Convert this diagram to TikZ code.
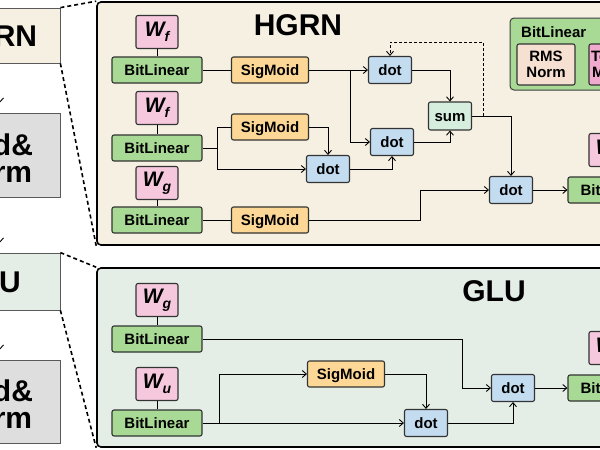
\documentclass[tikz,border=0pt]{standalone}
\usepackage{fontspec}
\setmainfont{Liberation Sans}
\usetikzlibrary{arrows.meta}

\definecolor{hgrnbg}{HTML}{F5F0E1}
\definecolor{glubg}{HTML}{E4EEE6}
\definecolor{addgray}{HTML}{DEDEDE}
\definecolor{wpink}{HTML}{F5C8DE}
\definecolor{blgreen}{HTML}{A8DA96}
\definecolor{sigorange}{HTML}{FCD796}
\definecolor{dotblue}{HTML}{C4DCF0}
\definecolor{summint}{HTML}{D6EEDE}
\definecolor{rmspeach}{HTML}{F6E0D2}
\definecolor{ternpink}{HTML}{F0AACD}

\newcommand{\wmat}[1]{{\fontsize{21}{21}\selectfont\bfseries\itshape W}\raisebox{-5pt}{\fontsize{14}{14}\selectfont\bfseries\itshape #1}}

\begin{document}
\begin{tikzpicture}[x=1pt,y=-1pt,
  blk/.style={draw=black!80,line width=1.1pt,rounded corners=2pt,inner sep=0pt,font=\bfseries\fontsize{15}{16}\selectfont},
  oneline/.style={text height=10.7pt,text depth=0pt},
  wbox/.style={blk,fill=wpink,minimum width=42pt,minimum height=33pt},
  bitlin/.style={blk,oneline,fill=blgreen,minimum width=90pt,minimum height=26pt},
  sigm/.style={blk,oneline,fill=sigorange,minimum width=77pt,minimum height=26pt},
  dotop/.style={blk,oneline,fill=dotblue,minimum width=43pt,minimum height=27pt},
  sumop/.style={blk,oneline,fill=summint,minimum width=43pt,minimum height=28pt},
  panel/.style={draw=black,line width=1.6pt,rounded corners=4pt},
  sidebox/.style={draw=black!65,line width=0.8pt,inner sep=0pt,minimum width=134pt,font=\bfseries\fontsize{30}{27}\selectfont,align=center},
  title/.style={inner sep=0pt,text height=21.5pt,text depth=0pt,font=\bfseries\fontsize{30}{30}\selectfont},
  wire/.style={line width=0.9pt},
  flow/.style={wire,-{Straight Barb[length=4pt,width=7pt]}},
  zoomline/.style={line width=1.6pt,dash pattern=on 4pt off 3pt}
]
\useasboundingbox (0,0) rectangle (600,450);
\fill [white] (0,0) rectangle (600,450);
\clip (0,0) rectangle (600,450);

%%%%%%%%%%%%%%%%%%%%%%%%%%%%%%%%%%%%%%%%%%%%%%%%%%%%%%%%%%%%%%%%%
% left column
\node [sidebox,fill=hgrnbg,minimum height=55pt,text height=21.5pt,text depth=0pt] (hgrnbox) at (-7,35.5) {HGRN};
\node [sidebox,fill=addgray,minimum height=84pt] (an1) at (-7,155) {\rule{0pt}{28pt}Add\&\\Norm};
\node [sidebox,fill=glubg,minimum width=142pt,minimum height=57pt,text height=21.5pt,text depth=0pt] (glubox) at (-11,281.5) {GLU};
\node [sidebox,fill=addgray,minimum height=83pt] (an2) at (-7,401.5) {\rule{0pt}{28pt}Add\&\\Norm};

\coordinate (lc) at (-1,0);
\draw [wire,-{Straight Barb[length=5pt,width=9pt]},shorten >=9pt] (hgrnbox.south -| lc) -- (an1.north -| lc);
\draw [wire,-{Straight Barb[length=5pt,width=9pt]},shorten >=9pt] (an1.south -| lc) -- (glubox.north -| lc);
\draw [wire,-{Straight Barb[length=5pt,width=9pt]},shorten >=9pt] (glubox.south -| lc) -- (an2.north -| lc);

%%%%%%%%%%%%%%%%%%%%%%%%%%%%%%%%%%%%%%%%%%%%%%%%%%%%%%%%%%%%%%%%%
% panels
\node [panel,fill=hgrnbg,minimum width=603pt,minimum height=243pt] (hgrnpanel) at (398.5,123.5) {};
\node [panel,fill=glubg,minimum width=603pt,minimum height=179pt] (glupanel) at (398.5,357.5) {};

\draw [zoomline] (hgrnbox.north east) -- (hgrnpanel.north west);
\draw [zoomline] (hgrnbox.south east) -- (hgrnpanel.south west);
\draw [zoomline] (glubox.north east) -- (glupanel.north west);
\draw [zoomline] (glubox.south east) -- (glupanel.south west);

\node [title] (hgrntitle) at (298,25) {HGRN};
\node [title] (glutitle) at (494,291) {GLU};

% legend
\node [draw=black!75,line width=1pt,rounded corners=4pt,fill=blgreen,minimum width=170pt,minimum height=72pt] (legend) at (595,54) {};
\node [anchor=west,inner sep=0pt,oneline,font=\bfseries\fontsize{15}{16}\selectfont] (leglabel) at (521,32) {BitLinear};
\node [blk,fill=rmspeach,minimum width=58pt,minimum height=41pt,align=center] (rmsnorm) at (546,64.5) {RMS\\Norm};
\node [blk,fill=ternpink,minimum width=58pt,minimum height=41pt,align=center] (ternary) at (618,64.5) {Ternary\\MatMul};

%%%%%%%%%%%%%%%%%%%%%%%%%%%%%%%%%%%%%%%%%%%%%%%%%%%%%%%%%%%%%%%%%
% HGRN
\node [wbox] (wf1) at (157,32) {\wmat{f}};
\node [bitlin] (bl1) at (157,70) {BitLinear};
\draw [wire] (wf1.south) -- (bl1.north);
\node [sigm] (sig1) at (270,70) {SigMoid};
\draw [wire] (bl1.east) -- (sig1.west);
\node [dotop] (dot1) at (390,70) {dot};
\draw [flow] (sig1.east) -- (dot1.west);

\node [wbox] (wf2) at (157,108) {\wmat{f}};
\node [bitlin] (bl2) at (157,148) {BitLinear};
\draw [wire] (wf2.south) -- (bl2.north);
\node [sigm] (sig2) at (270,127) {SigMoid};
\node [dotop] (dot3) at (328,169) {dot};
\coordinate (s2) at (217,148);
\draw [wire] (bl2.east) -- (s2);
\draw [wire] (s2) |- (sig2.west);
\draw [flow] (s2) |- (dot3.west);
\draw [flow] (sig2.east) -| (dot3.north);

\node [dotop] (dot2) at (392,142) {dot};
\coordinate (s1) at (350,70);
\draw [flow] (s1) |- (dot2.west);
\draw [flow] (dot3.east) -| (dot2.south);

\node [sumop] (sum) at (450,116) {sum};
\draw [flow] (dot1.east) -| (sum.north);
\draw [flow] (dot2.east) -| (sum.south);

\node [wbox] (wg1) at (157,183) {\wmat{g}};
\node [bitlin] (bl3) at (157,220) {BitLinear};
\draw [wire] (wg1.south) -- (bl3.north);
\node [sigm] (sig3) at (270,220) {SigMoid};
\draw [wire] (bl3.east) -- (sig3.west);

\node [dotop] (dot4) at (511,190) {dot};
\coordinate (s3) at (420,220);
\draw [flow] (sig3.east) -- (s3) |- (dot4.west);
\draw [flow] (sum.east) -| (dot4.north);

\coordinate (fb) at (483,116);
\coordinate (fbt) at (483,42);
\draw [flow,dash pattern=on 3pt off 2pt] (fb) -- (fbt) -| (dot1.north);

\node [wbox] (wo1) at (610,150) {\wmat{o}};
\node [bitlin] (bl4) at (613,190) {BitLinear};
\draw [wire] (wo1.south) -- (bl4.north);
\draw [flow] (dot4.east) -- (bl4.west);

%%%%%%%%%%%%%%%%%%%%%%%%%%%%%%%%%%%%%%%%%%%%%%%%%%%%%%%%%%%%%%%%%
% GLU
\node [wbox] (wg2) at (157,300) {\wmat{g}};
\node [bitlin] (bl5) at (157,339) {BitLinear};
\draw [wire] (wg2.south) -- (bl5.north);

\node [wbox] (wu) at (157,384) {\wmat{u}};
\node [bitlin] (bl6) at (157,423) {BitLinear};
\draw [wire] (wu.south) -- (bl6.north);

\node [sigm] (sig4) at (346,374) {SigMoid};
\node [dotop] (dota) at (426,423) {dot};
\node [dotop] (dotb) at (513,388) {dot};

\coordinate (s4) at (219,423);
\draw [flow] (bl6.east) -- (dota.west);
\draw [flow] (s4) |- (sig4.west);
\draw [flow] (sig4.east) -| (dota.north);

\coordinate (g1) at (462,339);
\draw [flow] (bl5.east) -- (g1) |- (dotb.west);
\draw [flow] (dota.east) -| (dotb.south);

\node [wbox] (wo2) at (610,348) {\wmat{o}};
\node [bitlin] (bl7) at (613,388) {BitLinear};
\draw [wire] (wo2.south) -- (bl7.north);
\draw [flow] (dotb.east) -- (bl7.west);

%%%%%%%%%%%%%%%%%%%%%%%%%%%%%%%%%%%%%%%%%%%%%%%%%%%%%%%%%%%%%%%%%

\end{tikzpicture}
\end{document}
